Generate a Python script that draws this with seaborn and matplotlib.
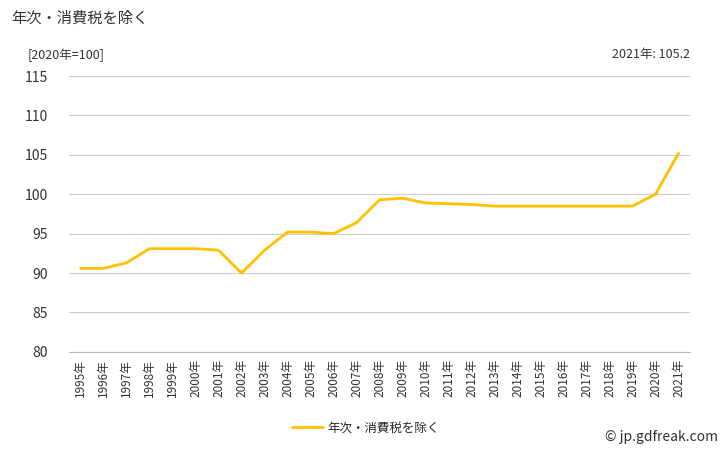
import numpy as np
import pandas as pd
import matplotlib
matplotlib.use("Agg")
import matplotlib.pyplot as plt
import seaborn as sns

# data
years = [f"{y}年" for y in range(1995, 2022)]
values = [90.6, 90.6, 91.3, 93.1, 93.1, 93.1, 92.9, 90.0, 92.9, 95.2,
          95.2, 95.0, 96.4, 99.3, 99.5, 98.9, 98.8, 98.7, 98.5, 98.5,
          98.5, 98.5, 98.5, 98.5, 98.5, 100.0, 105.2]
series_name = "年次・消費税を除く"

sns.set_theme(style="white")
plt.rcParams['font.family'] = ['Noto Sans CJK JP', 'DejaVu Sans']

df = pd.DataFrame({"pos": np.arange(len(years)), "value": values})

fig = plt.figure(figsize=(7.28, 4.5), dpi=100)
ax = fig.add_axes([0.0948, 0.218, 0.853, 0.613])

sns.lineplot(data=df, x="pos", y="value", ax=ax, color="#FFC000",
             linewidth=2.0, label=series_name)

ax.set_ylim(80, 115)
ax.set_yticks(range(80, 116, 5))
ax.set_xlim(-0.5, len(years) - 0.5)
ax.set_xticks(np.arange(len(years)))
ax.set_xticklabels(years, rotation=90, fontsize=8.5, color="#333333")
ax.set_xticks(np.arange(len(years) + 1) - 0.5, minor=True)
ax.tick_params(axis="x", which="major", length=0, pad=5)
ax.tick_params(axis="x", which="minor", length=4, color="#BBBBBB", width=0.8)
ax.tick_params(axis="y", length=0, labelsize=10, colors="#333333", pad=15)
ax.grid(axis="y", color="#CCCCCC", linewidth=0.8)
for s in ["top", "right", "left"]:
    ax.spines[s].set_visible(False)
ax.spines["bottom"].set_color("#BBBBBB")
ax.spines["bottom"].set_linewidth(0.8)
ax.set_xlabel("")
ax.set_ylabel("")

fig.text(0.016, 0.96, series_name, fontsize=11, color="#333333", va="center")
fig.text(0.038, 0.878, "[2020年=100]", fontsize=9, color="#333333", va="center")
fig.text(0.948, 0.878, f"2021年: {values[-1]}", fontsize=9, color="#333333",
         va="center", ha="right")
fig.text(0.986, 0.028, "© jp.gdfreak.com", fontsize=10, color="#333333",
         va="center", ha="right")

ax.legend(loc="center", bbox_to_anchor=(0.478, -0.275), frameon=False,
          fontsize=9, handlelength=2.5, handletextpad=0.3)

fig.savefig("out.png", dpi=100)
